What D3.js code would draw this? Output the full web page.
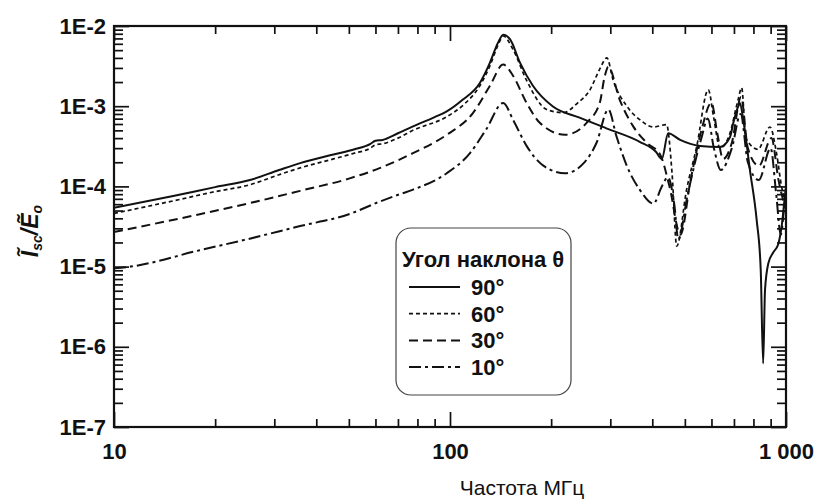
<!DOCTYPE html>
<html>
<head>
<meta charset="utf-8">
<title>Isc/Eo</title>
<script src="https://d3js.org/d3.v7.min.js"></script>
<style>
  body { margin: 0; background: #fff; }
  svg text { font-family: "Liberation Sans", Arial, sans-serif; }
</style>
</head>
<body>
<script>

// axis ticks
var xMajor = [10, 100, 1000];
var xLabels = ["10", "100", "1 000"];
var xMinor = [20, 30, 40, 50, 60, 70, 80, 90, 200, 300, 400, 500, 600, 700, 800, 900];
var yMajor = [1e-7, 1e-6, 1e-5, 1e-4, 1e-3, 1e-2];
var yLabels = ["1E-7", "1E-6", "1E-5", "1E-4", "1E-3", "1E-2"];
var yMinor = [];
[-7, -6, -5, -4, -3].forEach(function(e) {
  [2, 3, 4, 5, 6, 7, 8, 9].forEach(function(k) { yMinor.push(k * Math.pow(10, e)); });
});

var legendLabels = ["90°", "60°", "30°", "10°"];

// series: [frequency MHz, Isc/Eo]
var s90 = [
  [10, 5.4e-5], [15, 7.6e-5], [20, 9.8e-5], [25.4, 1.2e-4], [31, 1.6e-4], [35.8, 1.95e-4],
  [45, 2.5e-4], [52, 2.9e-4], [58, 3.4e-4], [60, 3.7e-4], [63, 3.8e-4], [70, 4.6e-4],
  [77.6, 5.6e-4], [90, 7.3e-4], [97.8, 8.6e-4], [109, 1.2e-3], [122.7, 1.95e-3],
  [131.5, 3.5e-3], [139, 6.2e-3], [144, 7.8e-3], [151, 6.8e-3], [161.5, 3.5e-3],
  [176.5, 1.8e-3], [202, 1.0e-3], [243, 7.2e-4], [292, 5.3e-4], [367, 3.6e-4],
  [410, 2.7e-4], [427, 2.2e-4], [446, 4.6e-4], [484, 3.8e-4], [555, 3.2e-4],
  [636, 3.1e-4], [681, 4.1e-4], [697, 6.2e-4], [721, 1.0e-3], [729, 1.1e-3],
  [746, 6.8e-4], [781, 1.6e-4], [818, 3.8e-5], [841, 9.1e-6], [855, 6.2e-7],
  [866, 5.1e-6], [886, 1.1e-5], [916, 1.5e-5], [948, 1.9e-5], [970, 3.1e-5],
  [993, 7.5e-5], [1000, 9e-5]
];
var s60 = [
  [10, 4.6e-5], [15, 6.6e-5], [20, 8.6e-5], [25.4, 1.05e-4], [31, 1.4e-4], [35.8, 1.7e-4],
  [45, 2.2e-4], [52, 2.6e-4], [58, 3.0e-4], [60, 3.3e-4], [63, 3.4e-4], [70, 4.0e-4],
  [77.6, 5.0e-4], [97.8, 7.4e-4], [110, 1.05e-3], [122.7, 1.8e-3], [131.5, 3.2e-3],
  [139, 5.8e-3], [144, 7.5e-3], [154, 5.1e-3], [169, 2.1e-3], [194, 9.1e-4],
  [217, 8.3e-4], [240, 1.1e-3], [261, 1.6e-3], [279, 2.9e-3], [293, 4.0e-3],
  [306, 2.1e-3], [336, 1.0e-3], [367, 6.8e-4], [403, 5.5e-4], [441, 5.9e-4],
  [458, 1.46e-4], [473, 1.8e-5], [506, 9.1e-5], [542, 3.1e-4], [587, 1.6e-3],
  [610, 7e-4], [636, 3.0e-4], [680, 4.5e-4], [720, 1.2e-3], [738, 1.7e-3],
  [760, 4e-4], [825, 2.9e-4], [896, 5.5e-4], [937, 2.6e-4], [970, 1.0e-4], [1000, 6e-5]
];
var s30 = [
  [10, 2.7e-5], [18, 4.5e-5], [25.4, 6.2e-5], [35.8, 8.8e-5], [50, 1.25e-4], [62, 1.7e-4],
  [77.6, 2.6e-4], [97.8, 4.4e-4], [117, 8.2e-4], [131.5, 1.8e-3], [144, 3.3e-3],
  [154, 2.4e-3], [169, 1.1e-3], [185, 6.2e-4], [220, 4.4e-4], [255, 6.2e-4],
  [279, 1.1e-3], [289, 2.4e-3], [296, 3.1e-3], [320, 1.2e-3], [351, 5.6e-4],
  [385, 3.5e-4], [422, 2.5e-4], [450, 1.0e-4], [485, 2.5e-5], [520, 1.2e-4],
  [560, 5e-4], [600, 1.1e-3], [625, 4.5e-4], [650, 2.2e-4], [690, 3.5e-4],
  [735, 1.3e-3], [770, 3e-4], [830, 1.8e-4], [905, 4e-4], [950, 1.2e-4], [1000, 5e-5]
];
var s10 = [
  [10, 9.5e-6], [11.2, 1.0e-5], [18, 1.6e-5], [25, 2.2e-5], [35.8, 3.2e-5], [50, 4.5e-5],
  [62, 6.5e-5], [71, 8.0e-5], [77.6, 9.1e-5], [97.8, 1.46e-4], [114.7, 2.6e-4],
  [128, 5.1e-4], [144, 1.1e-3], [154, 6.8e-4], [169, 3.2e-4], [190, 1.8e-4],
  [220, 1.46e-4], [250, 1.95e-4], [273, 3.5e-4], [296, 9.1e-4], [313, 4.2e-4],
  [336, 1.8e-4], [367, 9.1e-5], [403, 6.1e-5], [427, 1.0e-4], [445, 1.3e-4],
  [465, 6e-5], [478, 2.2e-5], [510, 8e-5], [560, 4e-4], [585, 7e-4], [610, 3e-4],
  [640, 1.6e-4], [690, 3e-4], [733, 8e-4], [770, 2e-4], [830, 1.2e-4], [900, 3e-4],
  [935, 8e-5], [965, 2.5e-5], [985, 5e-5], [1000, 1.0e-4]
];

var series = [s90, s60, s30, s10];
var dashes = [null, "4,3", "9,5", "12,4,3,4"];
var widths = [2, 1.7, 2, 2];

//Size
var W = 816, H = 502;
var margin = {left: 114, top: 26, right: 30, bottom: 75};
var w = W - margin.left - margin.right;
var h = H - margin.top - margin.bottom;

var svg = d3.select("body").append("svg")
            .attr("width", W)
            .attr("height", H);

var g = svg.append("g")
           .attr("transform", "translate(" + margin.left + "," + margin.top + ")");

//Scales
var x = d3.scaleLog().domain([10, 1000]).range([0, w]);
var y = d3.scaleLog().domain([1e-7, 1e-2]).range([h, 0]);

g.append("clipPath").attr("id", "clip")
 .append("rect").attr("width", w).attr("height", h);

//Curves
var line = d3.line()
             .x(function(d) { return x(d[0]); })
             .y(function(d) { return y(d[1]); })
             .curve(d3.curveMonotoneX);

g.append("g").attr("clip-path", "url(#clip)")
 .selectAll("path")
 .data(series)
 .enter()
 .append("path")
 .attr("d", line)
 .attr("fill", "none")
 .attr("stroke", "#111")
 .attr("stroke-width", function(d, i) { return widths[i]; })
 .attr("stroke-dasharray", function(d, i) { return dashes[i]; })
 .attr("stroke-linejoin", "round");

//Axes, ticks pointing inward
function styleAxis(sel) {
  sel.select(".domain").remove();
  sel.selectAll(".tick line").attr("stroke", "#111").attr("stroke-width", 1.7);
  sel.selectAll("text")
     .attr("font-family", "'Liberation Sans', Arial, sans-serif")
     .attr("font-size", 22)
     .attr("font-weight", "bold")
     .attr("fill", "#111");
}

g.append("g").attr("transform", "translate(0," + h + ")")
 .call(d3.axisBottom(x).tickValues(xMajor).tickSize(-15).tickPadding(16)
        .tickFormat(function(d, i) { return xLabels[i]; }))
 .call(styleAxis);
g.append("g").attr("transform", "translate(0," + h + ")")
 .call(d3.axisBottom(x).tickValues(xMinor).tickSize(-8).tickFormat(""))
 .call(styleAxis);
g.append("g")
 .call(d3.axisTop(x).tickValues(xMajor).tickSize(-15).tickFormat(""))
 .call(styleAxis);
g.append("g")
 .call(d3.axisTop(x).tickValues(xMinor).tickSize(-8).tickFormat(""))
 .call(styleAxis);

g.append("g")
 .call(d3.axisLeft(y).tickValues(yMajor).tickSize(-15).tickPadding(8)
        .tickFormat(function(d, i) { return yLabels[i]; }))
 .call(styleAxis);
g.append("g")
 .call(d3.axisLeft(y).tickValues(yMinor).tickSize(-9).tickFormat(""))
 .call(styleAxis);
g.append("g").attr("transform", "translate(" + w + ",0)")
 .call(d3.axisRight(y).tickValues(yMajor).tickSize(-15).tickFormat(""))
 .call(styleAxis);
g.append("g").attr("transform", "translate(" + w + ",0)")
 .call(d3.axisRight(y).tickValues(yMinor).tickSize(-9).tickFormat(""))
 .call(styleAxis);

//Frame
g.append("rect")
 .attr("width", w)
 .attr("height", h)
 .attr("fill", "none")
 .attr("stroke", "#111")
 .attr("stroke-width", 2.2);

//Axis titles
svg.append("text")
   .attr("x", 522)
   .attr("y", 495)
   .attr("text-anchor", "middle")
   .attr("font-size", 21)
   .attr("fill", "#111")
   .text("Частота МГц");

var yt = svg.append("text")
   .attr("transform", "translate(38,231) rotate(-90)")
   .attr("text-anchor", "middle")
   .attr("font-size", 23)
   .attr("font-weight", "bold")
   .attr("font-style", "italic")
   .attr("fill", "#111");
yt.append("tspan").text("Ĩ");
yt.append("tspan").attr("font-size", 14).attr("dy", 4).text("sc");
yt.append("tspan").attr("dy", -4).text("/Ẽ");
yt.append("tspan").attr("font-size", 14).attr("dy", 4).text("o");

//Legend
var lg = svg.append("g").attr("transform", "translate(396,228)");
lg.append("rect")
  .attr("width", 175)
  .attr("height", 167)
  .attr("rx", 15)
  .attr("fill", "#fff")
  .attr("stroke", "#444")
  .attr("stroke-width", 1.2);
lg.append("text")
  .attr("x", 6)
  .attr("y", 39)
  .attr("font-size", 22)
  .attr("font-weight", "bold")
  .attr("fill", "#111")
  .text("Угол наклона θ");

var items = lg.selectAll(".item")
  .data(legendLabels)
  .enter()
  .append("g")
  .attr("class", "item")
  .attr("transform", function(d, i) { return "translate(0," + (67 + i * 26.7) + ")"; });
items.append("line")
  .attr("x1", 13).attr("x2", 64)
  .attr("y1", -8).attr("y2", -8)
  .attr("stroke", "#111")
  .attr("stroke-width", function(d, i) { return widths[i]; })
  .attr("stroke-dasharray", function(d, i) { return dashes[i]; });
items.append("text")
  .attr("x", 75)
  .attr("font-size", 22)
  .attr("font-weight", "bold")
  .attr("fill", "#111")
  .text(function(d) { return d; });

</script>
</body>
</html>
